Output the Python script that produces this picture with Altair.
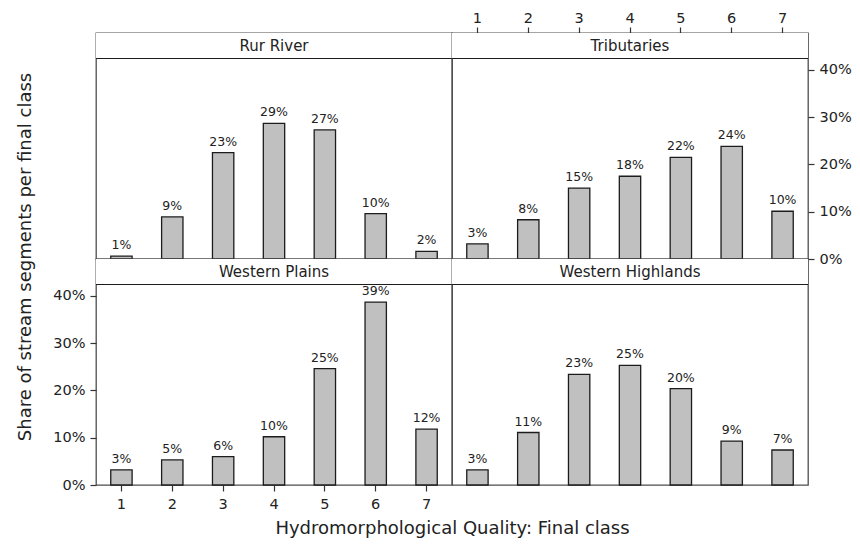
import altair as alt
import pandas as pd

classes = [1, 2, 3, 4, 5, 6, 7]
panels = ["Rur River", "Tributaries", "Western Plains", "Western Highlands"]
rur_river = [0.6, 8.9, 22.5, 28.7, 27.3, 9.6, 1.6]
tributaries = [3.2, 8.3, 15.0, 17.5, 21.5, 23.8, 10.1]
western_plains = [3.2, 5.3, 6.0, 10.2, 24.6, 38.7, 11.8]
western_highlands = [3.2, 11.1, 23.4, 25.3, 20.4, 9.3, 7.4]
y_ticks = [0, 10, 20, 30, 40]

W = 356
H = 226
STRIP = 25.5
YMAX = 47.8
FONT = "DejaVu Sans"
TXT = "#222222"


def panel(name, vals, x_axis, y_axis):
    df = pd.DataFrame({"cls": classes, "share": vals})
    x = alt.X("cls:O", scale=alt.Scale(paddingInner=0.58, paddingOuter=0.29), axis=x_axis)
    y = alt.Y("share:Q", scale=alt.Scale(domain=[0, YMAX], nice=False, zero=True), axis=y_axis)
    base = alt.Chart(df).transform_calculate(
        lbl="format(datum.share, '.0f') + '%'"
    )
    bars = base.mark_bar(fill="#c0c0c0", stroke="#1c1c1c", strokeWidth=1.3).encode(x=x, y=y)
    labels = base.mark_text(
        dy=-11, baseline="middle", fontSize=12.5, font=FONT, color=TXT
    ).encode(x=x, y=y, text="lbl:N")
    sdf = pd.DataFrame({"panel": [name]})
    strip_bg = alt.Chart(sdf).mark_rect(fill="white").encode(
        x=alt.value(0), x2=alt.value(W), y=alt.value(0), y2=alt.value(STRIP)
    )
    strip_line = alt.Chart(sdf).mark_rule(color="#1c1c1c", strokeWidth=1.2).encode(
        x=alt.value(0), x2=alt.value(W), y=alt.value(STRIP)
    )
    strip_text = alt.Chart(sdf).mark_text(
        fontSize=15, font=FONT, color=TXT, baseline="middle", align="center"
    ).encode(x=alt.value(W / 2), y=alt.value(STRIP / 2 + 0.5), text="panel:N")
    return alt.layer(bars, labels, strip_bg, strip_line, strip_text).properties(width=W, height=H)


common_axis = dict(
    domain=False, ticks=True, tickColor="#333333", tickSize=6, tickWidth=1.2,
    labelFont=FONT, labelFontSize=14.5, labelColor=TXT, grid=False,
)

y_left = alt.Axis(
    orient="left", values=y_ticks, labelExpr="datum.value + '%'", labelPadding=5,
    title="Share of stream segments per final class", titleFont=FONT, titleFontSize=18,
    titleFontWeight="normal", titleColor=TXT, titleX=-62, titleY=-2.5, titleAlign="center",
    titleBaseline="bottom", titleAngle=270, **common_axis
)
y_right = alt.Axis(
    orient="right", values=y_ticks, labelExpr="datum.value + '%'", labelPadding=5,
    title=None, **common_axis
)
x_bottom = alt.Axis(
    orient="bottom", labelAngle=0, labelPadding=6,
    title="Hydromorphological Quality: Final class", titleFont=FONT, titleFontSize=18,
    titleFontWeight="normal", titleColor=TXT, titleX=W, titleY=43, titleAlign="center",
    titleBaseline="middle", **common_axis
)
x_top = alt.Axis(orient="top", labelAngle=0, labelPadding=2, title=None, **common_axis)

tl = panel(panels[0], rur_river, None, None)
tr = panel(panels[1], tributaries, x_top, y_right)
bl = panel(panels[2], western_plains, x_bottom, y_left)
br = panel(panels[3], western_highlands, None, None)

chart = alt.concat(tl, tr, bl, br, columns=2, spacing=0, bounds="flush").properties(
    padding={"left": 7, "top": 1, "right": 0, "bottom": 0}
).configure(
    background="white"
).configure_view(
    stroke="#4d4d4d", strokeWidth=1.3
)

chart.save("out.html", embed_options={"renderer": "svg", "actions": False})
